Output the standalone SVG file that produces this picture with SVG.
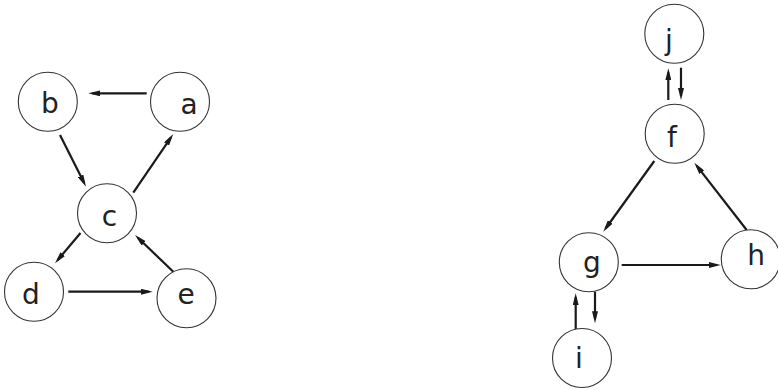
<svg xmlns="http://www.w3.org/2000/svg" width="778" height="390" viewBox="0 0 778 390">
<style>
.node circle{fill:#fff;stroke:#333;stroke-width:1.1}
.node text{font-family:"DejaVu Sans","Liberation Sans",sans-serif;font-size:28px;fill:#222;text-anchor:middle}
.edge{stroke:#1a1a1a;stroke-width:2.2;fill:none;marker-end:url(#arr)}
</style>
<defs>
<marker id="arr" markerUnits="userSpaceOnUse" markerWidth="12" markerHeight="6" viewBox="0 0 12 6" refX="8" refY="3" orient="auto">
<path d="M0,0 L12,3 L0,6 Z" fill="#1a1a1a"/>
</marker>
</defs>
<rect width="778" height="390" fill="#fff"/>
<g id="connectors">
<line class="edge" x1="146.7" y1="93.3" x2="92.3" y2="93.3"/>
<line class="edge" x1="60" y1="135" x2="84.2" y2="183.1"/>
<line class="edge" x1="133.3" y1="192.7" x2="171" y2="137.3"/>
<line class="edge" x1="80.5" y1="233" x2="57.6" y2="260.2"/>
<line class="edge" x1="173.3" y1="271.7" x2="137.9" y2="237.8"/>
<line class="edge" x1="68.3" y1="291.7" x2="148.7" y2="291.7"/>
<line class="edge" x1="668.3" y1="100" x2="668.3" y2="72.3"/>
<line class="edge" x1="681" y1="67.7" x2="681" y2="96"/>
<line class="edge" x1="654.3" y1="161" x2="605.6" y2="228.5"/>
<line class="edge" x1="746.7" y1="230" x2="696.8" y2="165.9"/>
<line class="edge" x1="621.7" y1="265" x2="716.7" y2="265"/>
<line class="edge" x1="575.7" y1="330" x2="575.7" y2="297.3"/>
<line class="edge" x1="595" y1="291.7" x2="595" y2="319.3"/>
</g>
<g id="node-a" class="node"><circle cx="180" cy="101.7" r="29.5"/><text x="189" y="114">a</text></g>
<g id="node-b" class="node"><circle cx="47.8" cy="101.7" r="29.5"/><text x="50" y="113.3">b</text></g>
<g id="node-c" class="node"><circle cx="107" cy="213.3" r="29.5"/><text x="109.5" y="226">c</text></g>
<g id="node-d" class="node"><circle cx="34" cy="291.7" r="29.5"/><text x="31" y="304">d</text></g>
<g id="node-e" class="node"><circle cx="186.5" cy="298.3" r="29.5"/><text x="186" y="304">e</text></g>
<g id="node-f" class="node"><circle cx="674.7" cy="133.7" r="29.5"/><text x="672" y="146.7">f</text></g>
<g id="node-g" class="node"><circle cx="588.8" cy="262.2" r="29.5"/><text x="592" y="272">g</text></g>
<g id="node-h" class="node"><circle cx="750.8" cy="259.3" r="29.5"/><text x="756" y="265">h</text></g>
<g id="node-i" class="node"><circle cx="582" cy="358" r="29.5"/><text x="579" y="368">i</text></g>
<g id="node-j" class="node"><circle cx="674.3" cy="33.8" r="29.5"/><text x="669" y="50">j</text></g>
</svg>
